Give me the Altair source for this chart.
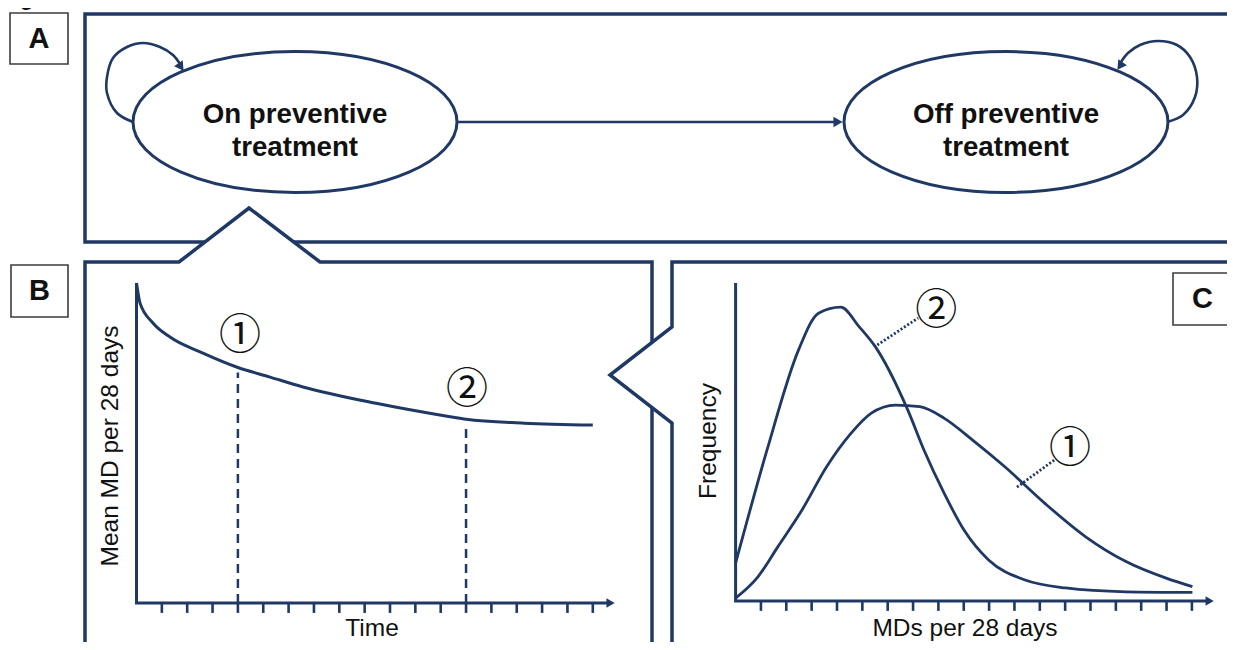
import altair as alt
import pandas as pd

NAVY = "#1f3864"
BOXGRAY = "#3c3c3c"
INK = "#111111"
SANS = "Liberation Sans"
CIRC = "Noto Sans CJK JP"

# ---------------- Panel B: mean MD per 28 days over time ----------------
b_time = [0, 0.14, 0.65, 1.32, 2.62, 4.0, 5.27, 6.53, 9.45, 12.37, 13.0, 15.29, 18.0]
b_mean = [10.0, 9.37, 8.75, 8.31, 7.81, 7.36, 7.06, 6.76, 6.24, 5.82, 5.74, 5.62, 5.56]
b_mark_t = [4, 13]
b_mark_top = [7.2, 5.6]
b_label_t = [4.08, 13.04]
b_label_v = [8.34, 6.66]
circ_labels = ["①", "②"]

# ---------------- Panel C: frequency distributions ----------------
c1_x = [0, 0.88, 1.67, 2.62, 3.59, 4.55, 5.34, 6.31, 7.27, 8.22, 9.35, 10.62, 12.2, 13.81, 15.4, 17.01, 18.02]
c1_y = [0.09, 0.76, 1.71, 2.86, 4.22, 5.27, 5.9, 6.16, 6.11, 5.75, 5.06, 4.22, 3.07, 2.02, 1.24, 0.71, 0.45]
c2_x = [0, 1.24, 2.48, 3.27, 4.15, 4.87, 5.51, 6.79, 7.43, 8.22, 9.01, 9.98, 11.42, 13.02, 15.4, 18.02]
c2_y = [1.19, 4.75, 7.89, 9.05, 9.24, 8.63, 8.0, 6.01, 4.75, 3.4, 2.23, 1.29, 0.66, 0.41, 0.29, 0.27]
c_label_t = [13.19, 7.92]
c_label_v = [4.78, 9.12]
c_lead_id = [1, 1, 2, 2]
c_lead_t = [11.1, 12.6, 5.59, 7.2]
c_lead_v = [3.58, 4.45, 8.05, 8.9]

tick_pos = list(range(1, 19))
axis_tip = 18.7

# ---------------- Diagram canvas (reference pixel frame) ----------------
frame_seg = ["A1"] * 4 + ["A2"] * 2 + ["B1"] * 7 + ["B2"] * 2 + ["C1"] * 6
frame_x = [1260, 85, 85, 205, 294, 1260,
           85, 85, 179, 249, 320, 652, 652,
           652, 652,
           672, 672, 610, 672, 672, 1260]
frame_y = [14, 14, 242, 242, 242, 242,
           660, 262, 262, 208, 262, 262, 342.5,
           407.5, 660,
           660, 423, 375, 327, 262, 262]

box_letters = ["A", "B", "C"]
box_x1 = [10, 11, 1173]
box_x2 = [68, 68, 1232]
box_y1 = [13, 265, 273]
box_y2 = [64, 317, 325]

state_cx = [295, 1006]
state_cy = [122, 122]
state_line1 = ["On preventive", "Off preventive"]
state_line2 = ["treatment", "treatment"]

loop_id = ["on"] * 10 + ["off"] * 10
loop_x = [133, 117, 107, 107, 113, 127, 143, 160, 173, 180,
          1167, 1183, 1195, 1197, 1190, 1177, 1158, 1140, 1128, 1121]
loop_y = [122, 113, 93, 77, 58, 47, 43, 47, 55, 64,
          122, 115, 97, 77, 57, 45, 41, 45, 53, 62]
head_x = [181, 1120, 838]
head_y = [67, 66, 122]
head_angle = [55, 125, 0]
arrow_x = [457, 836]
arrow_y = [122, 122]

label_text = ["Time", "MDs per 28 days"]
label_x = [372, 965]
label_y = [636, 636]
ylabel_text = ["Mean MD per 28 days", "Frequency"]
ylabel_x = [118, 716]
ylabel_y = [446, 441]

# ---------------- scales ----------------
def sx():
    return alt.Scale(domain=[8, 1227], range=[0, 1219], nice=False, zero=False)

def sy():
    return alt.Scale(domain=[8, 642], range=[0, 634], nice=False, zero=False)

def bx():
    return alt.Scale(domain=[0, 18], range=[128.5, 584.8], nice=False, zero=False)

def by():
    return alt.Scale(domain=[0, 10], range=[595, 275], nice=False, zero=False)

def cxs():
    return alt.Scale(domain=[0, 18], range=[727.6, 1183.9], nice=False, zero=False)

def cys():
    return alt.Scale(domain=[0, 10], range=[593, 275], nice=False, zero=False)

def X(f, s):
    return alt.X(f, type="quantitative", scale=s, axis=None)

def Y(f, s):
    return alt.Y(f, type="quantitative", scale=s, axis=None)

# ---------------- data frames ----------------
frame_df = pd.DataFrame({"seg": frame_seg, "x": frame_x, "y": frame_y})
frame_df["i"] = range(len(frame_df))
box_df = pd.DataFrame({"t": box_letters, "x1": box_x1, "x2": box_x2, "y1": box_y1, "y2": box_y2})
box_df["cx"] = (box_df.x1 + box_df.x2) / 2
box_df["cy"] = (box_df.y1 + box_df.y2) / 2
state_df = pd.DataFrame({"x": state_cx, "y": state_cy, "l1": state_line1, "l2": state_line2})
loop_df = pd.DataFrame({"id": loop_id, "x": loop_x, "y": loop_y})
loop_df["i"] = range(len(loop_df))
head_df = pd.DataFrame({"x": head_x, "y": head_y, "a": head_angle})
arrow_df = pd.DataFrame({"x": arrow_x, "y": arrow_y})
lab_df = pd.DataFrame({"t": label_text, "x": label_x, "y": label_y})
ylab_df = pd.DataFrame({"t": ylabel_text, "x": ylabel_x, "y": ylabel_y})
title_df = pd.DataFrame({"t": ["Figure 1: Model schematic"], "x": [2], "y": [5]})

b_df = pd.DataFrame({"t": b_time, "v": b_mean})
b_dash = pd.DataFrame({"t": b_mark_t, "top": b_mark_top, "zero": [0, 0]})
b_lab = pd.DataFrame({"t": b_label_t, "v": b_label_v, "s": circ_labels})
axes_df = pd.DataFrame({"t": [0, 0, axis_tip - 0.1], "v": [10, 0, 0], "i": [0, 1, 2]})
tick_df = pd.DataFrame({"t": tick_pos, "v0": [0] * 18, "v1": [-0.31] * 18})
tip_df = pd.DataFrame({"t": [axis_tip], "v": [0]})

c_df = pd.concat([
    pd.DataFrame({"s": "1", "t": c1_x, "v": c1_y}),
    pd.DataFrame({"s": "2", "t": c2_x, "v": c2_y}),
])
c_lab = pd.DataFrame({"t": c_label_t, "v": c_label_v, "s": circ_labels})
c_lead = pd.DataFrame({"id": c_lead_id, "t": c_lead_t, "v": c_lead_v})

layers = []

# frames
layers.append(alt.Chart(frame_df).mark_line(color=NAVY, strokeWidth=3.5, strokeJoin="miter").encode(
    x=X("x", sx()), y=Y("y", sy()), detail="seg:N", order="i:Q"))

# label boxes
layers.append(alt.Chart(box_df).mark_rect(fill="white", stroke=BOXGRAY, strokeWidth=1.6).encode(
    x=X("x1", sx()), x2="x2:Q", y=Y("y1", sy()), y2="y2:Q"))
layers.append(alt.Chart(box_df).mark_text(font=SANS, fontSize=29, fontWeight="bold", color=INK,
                                          baseline="middle", align="center").encode(
    x=X("cx", sx()), y=Y("cy", sy()), text="t:N"))

# states (ellipses)
ell = ("M-1,0 C-1,-0.2402 -0.5523,-0.435 0,-0.435 C0.5523,-0.435 1,-0.2402 1,0 "
       "C1,0.2402 0.5523,0.435 0,0.435 C-0.5523,0.435 -1,0.2402 -1,0 Z")
layers.append(alt.Chart(state_df).mark_point(shape=ell, size=324 * 324, filled=False, opacity=1,
                                             stroke=NAVY, strokeWidth=3).encode(
    x=X("x", sx()), y=Y("y", sy())))
layers.append(alt.Chart(state_df).mark_text(font=SANS, fontSize=27.7, fontWeight="bold", color=INK,
                                            align="center", dy=-7).encode(
    x=X("x", sx()), y=Y("y", sy()), text="l1:N"))
layers.append(alt.Chart(state_df).mark_text(font=SANS, fontSize=27.7, fontWeight="bold", color=INK,
                                            align="center", dy=26).encode(
    x=X("x", sx()), y=Y("y", sy()), text="l2:N"))

# loops and arrows
layers.append(alt.Chart(loop_df).mark_line(color=NAVY, strokeWidth=2.6, interpolate="catmull-rom").encode(
    x=X("x", sx()), y=Y("y", sy()), detail="id:N", order="i:Q"))
layers.append(alt.Chart(arrow_df).mark_line(color=NAVY, strokeWidth=2.6).encode(
    x=X("x", sx()), y=Y("y", sy())))
layers.append(alt.Chart(head_df).mark_point(shape="triangle-right", filled=True, opacity=1, color=NAVY,
                                            size=110).encode(
    x=X("x", sx()), y=Y("y", sy()), angle=alt.Angle("a:Q", scale=None)))

# axis labels
layers.append(alt.Chart(lab_df).mark_text(font=SANS, fontSize=24.5, color=INK, align="center",
                                          baseline="alphabetic").encode(
    x=X("x", sx()), y=Y("y", sy()), text="t:N"))
layers.append(alt.Chart(ylab_df).mark_text(font=SANS, fontSize=24.5, color=INK, align="center",
                                           baseline="alphabetic", angle=270).encode(
    x=X("x", sx()), y=Y("y", sy()), text="t:N"))
layers.append(alt.Chart(title_df).mark_text(font=SANS, fontSize=22, fontWeight="bold", fontStyle="italic",
                                            color=INK, align="left", baseline="alphabetic").encode(
    x=X("x", sx()), y=Y("y", sy()), text="t:N"))

# ---- panel B ----
layers.append(alt.Chart(axes_df).mark_line(color=NAVY, strokeWidth=3).encode(
    x=X("t", bx()), y=Y("v", by()), order="i:Q"))
layers.append(alt.Chart(tick_df).mark_rule(color=NAVY, strokeWidth=2.6).encode(
    x=X("t", bx()), y=Y("v0", by()), y2="v1:Q"))
layers.append(alt.Chart(tip_df).mark_point(shape="triangle-right", filled=True, opacity=1, color=NAVY,
                                           size=90).encode(x=X("t", bx()), y=Y("v", by())))
layers.append(alt.Chart(b_dash).mark_rule(color=NAVY, strokeWidth=2.5, strokeDash=[9, 6]).encode(
    x=X("t", bx()), y=Y("zero", by()), y2="top:Q"))
layers.append(alt.Chart(b_df).mark_line(color=NAVY, strokeWidth=3, interpolate="monotone").encode(
    x=X("t", bx()), y=Y("v", by())))
layers.append(alt.Chart(b_lab).mark_text(font=CIRC, fontSize=42, color=INK, align="center",
                                         baseline="middle").encode(
    x=X("t", bx()), y=Y("v", by()), text="s:N"))

# ---- panel C ----
layers.append(alt.Chart(axes_df).mark_line(color=NAVY, strokeWidth=3).encode(
    x=X("t", cxs()), y=Y("v", cys()), order="i:Q"))
layers.append(alt.Chart(tick_df).mark_rule(color=NAVY, strokeWidth=2.6).encode(
    x=X("t", cxs()), y=Y("v0", cys()), y2="v1:Q"))
layers.append(alt.Chart(tip_df).mark_point(shape="triangle-right", filled=True, opacity=1, color=NAVY,
                                           size=90).encode(x=X("t", cxs()), y=Y("v", cys())))
layers.append(alt.Chart(c_df).mark_line(color=NAVY, strokeWidth=2.8, interpolate="monotone").encode(
    x=X("t", cxs()), y=Y("v", cys()), detail="s:N"))
layers.append(alt.Chart(c_lead).mark_line(color=NAVY, strokeWidth=2.8, strokeDash=[2, 2]).encode(
    x=X("t", cxs()), y=Y("v", cys()), detail="id:N"))
layers.append(alt.Chart(c_lab).mark_text(font=CIRC, fontSize=42, color=INK, align="center",
                                         baseline="middle").encode(
    x=X("t", cxs()), y=Y("v", cys()), text="s:N"))

chart = alt.layer(*layers).resolve_scale(x="independent", y="independent").properties(
    width=1219, height=634, padding=0, autosize=alt.AutoSizeParams(type="none"), background="white"
).configure_view(stroke=None)

chart.save("out.html", embed_options={"renderer": "svg", "actions": False})
